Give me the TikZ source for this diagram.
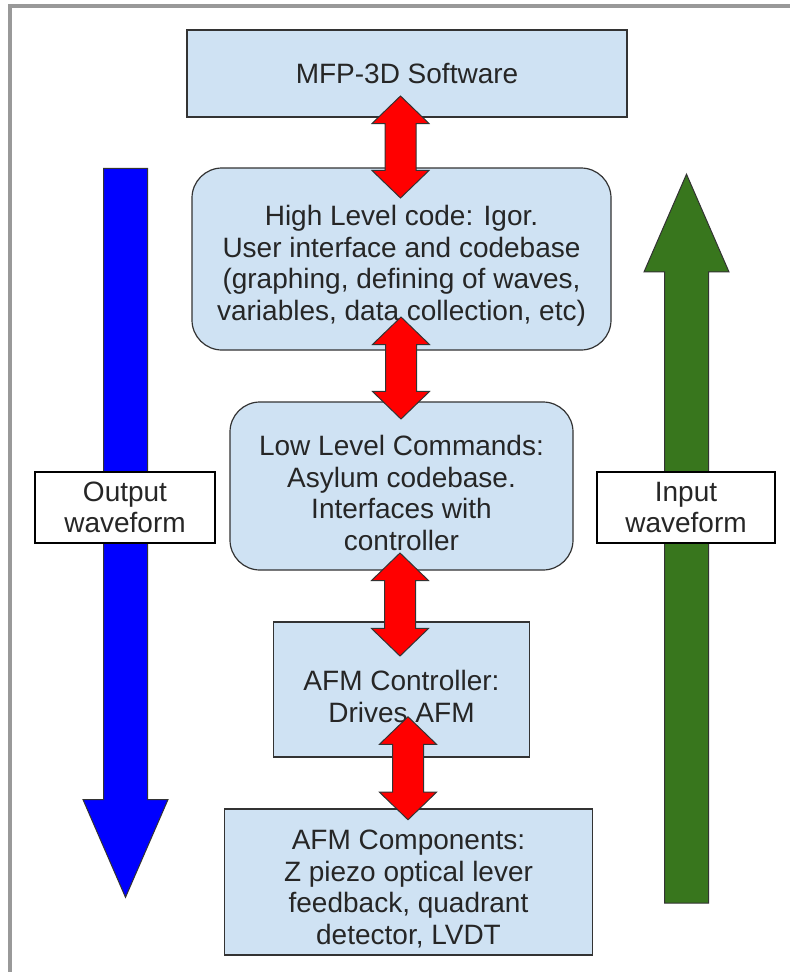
\documentclass[tikz,border=0pt]{standalone}
\usepackage{fontspec}
\setmainfont{Liberation Sans}
\usetikzlibrary{shapes.arrows, calc}

\definecolor{boxblue}{HTML}{CFE2F3}
\definecolor{wavegreen}{HTML}{38761D}
\definecolor{edgegray}{HTML}{333333}
\definecolor{framegray}{HTML}{999999}
\newcommand{\liftline}{\rule{0pt}{34pt}}

\begin{document}
\begin{tikzpicture}[x=1pt, y=-1pt, node distance=190pt, font=\fontsize{28}{31.5}\selectfont]
        \tikzstyle{block} = [rectangle, draw=edgegray, line width=1.2pt, fill=boxblue, text=black!85, align=center, inner sep=0pt]
        \tikzstyle{roundblock} = [block, rounded corners=30pt]
        \tikzstyle{wavelabel} = [rectangle, draw=black, line width=1.5pt, fill=white, text=black!85, align=center, minimum width=180pt, minimum height=71pt, inner sep=0pt]
        \tikzstyle{link} = [double arrow, draw=edgegray, fill=red, line width=1pt, inner sep=0pt, inner ysep=15pt, minimum width=0pt, double arrow head extend=13pt, double arrow tip angle=92, rotate=90]
        \tikzstyle{flow} = [single arrow, draw=edgegray, line width=1pt, inner sep=0pt, inner ysep=21.5pt, minimum width=0pt, minimum height=729pt, single arrow head extend=20.5pt, single arrow tip angle=47]

        \useasboundingbox (0,0) rectangle (790,972);
        \draw [framegray, line width=4pt] (10.3,972) -- (10.3,5.7) -- (790,5.7);

        % side arrows
        \node (outarrow) [flow, fill=blue, rotate=-90] at (125.5,507.5) {};
        \node (inarrow) [flow, fill=wavegreen, rotate=90] at (686.5,564) {};
        \node (outlbl) [wavelabel] at (125,507.5) {Output\\waveform};
        \node (inlbl) [wavelabel, minimum width=178pt] at (686,507.5) {Input\\waveform};

        % stack
        \node (sw) [block, minimum width=440pt, minimum height=87pt] at (407,73.5) {MFP-3D Software};
        \node (high) [roundblock, minimum width=419pt, minimum height=182pt, below of=sw, xshift=-5.5pt, yshift=4.5pt] {\liftline High Level code: Igor.\\User interface and codebase\\(graphing, defining of waves,\\variables, data collection, etc)};
        \node (low) [roundblock, minimum width=343pt, minimum height=168pt, below of=high, yshift=-37pt] {\liftline Low Level Commands:\\Asylum codebase.\\Interfaces with\\controller};
        \node (ctrl) [block, minimum width=256pt, minimum height=135pt, below of=low, yshift=-13.5pt] {\liftline AFM Controller:\\Drives AFM};
        \node (comp) [block, minimum width=368pt, minimum height=146pt, below of=ctrl, xshift=7pt, yshift=-2.5pt] {\liftline AFM Components:\\Z piezo optical lever\\feedback, quadrant\\detector, LVDT};

        % links
        \node (l1) [link, minimum height=102pt] at ($(sw.south)!.5!(high.north)+(-3.75,4.5)$) {};
        \node (l2) [link, minimum height=102pt] at ($(high.south)!.5!(low.north)+(-0.5,-8)$) {};
        \node (l3) [link, minimum height=103pt] at ($(low.south)!.5!(ctrl.north)+(-1.5,8.5)$) {};
        \node (l4) [link, minimum height=103pt] at ($(ctrl.south)!.5!(comp.north)+(3,-14.75)$) {};
    \end{tikzpicture}
\end{document}
